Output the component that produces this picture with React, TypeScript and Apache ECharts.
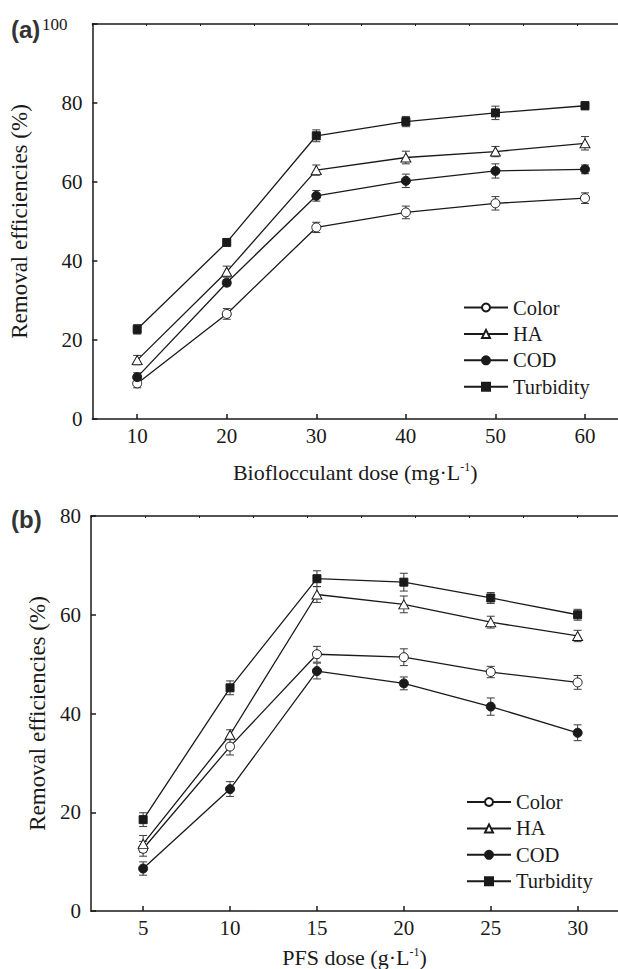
import { useEffect, useRef } from "react";
import * as echarts from "echarts";

// Panel (a): bioflocculant dose series
const doseA = [10, 20, 30, 40, 50, 60];
const colorA = [9.0, 26.6, 48.5, 52.3, 54.6, 55.9];
const haA = [14.9, 37.3, 63.0, 66.2, 67.7, 69.8];
const codA = [10.6, 34.5, 56.5, 60.3, 62.8, 63.2];
const turbA = [22.7, 44.7, 71.7, 75.3, 77.5, 79.3];
const colorAErr = [1.1, 1.35, 1.3, 1.6, 1.7, 1.35];
const haAErr = [1.2, 1.4, 1.3, 1.6, 1.3, 1.7];
const codAErr = [1.1, 0.8, 1.35, 1.7, 1.8, 1.1];
const turbAErr = [1.2, 0.5, 1.5, 1.3, 1.7, 1.0];

// Panel (b): PFS dose series
const doseB = [5, 10, 15, 20, 25, 30];
const colorB = [12.6, 33.3, 52.0, 51.4, 48.4, 46.3];
const haB = [13.6, 35.7, 64.1, 62.1, 58.5, 55.7];
const codB = [8.6, 24.7, 48.6, 46.1, 41.4, 36.1];
const turbB = [18.5, 45.2, 67.3, 66.6, 63.4, 60.0];
const colorBErr = [1.5, 1.7, 1.6, 1.7, 1.15, 1.4];
const haBErr = [1.7, 1.0, 1.6, 1.7, 1.2, 1.15];
const codBErr = [1.35, 1.5, 1.6, 1.3, 1.75, 1.6];
const turbBErr = [1.4, 1.4, 1.6, 1.8, 1.1, 1.1];

const seriesNames = ["Color", "HA", "COD", "Turbidity"];
const xTicksA = [10, 20, 30, 40, 50, 60];
const xTicksB = [5, 10, 15, 20, 25, 30];

const FONT = "Liberation Serif";
const INK = "#1a1a1a";
const BAR = "#3a3a3a";

const markerOf: Record<string, any> = {
  Color: { symbol: "circle", symbolSize: 9, itemStyle: { color: "#fff", borderColor: INK, borderWidth: 1 } },
  HA: { symbol: "triangle", symbolSize: [10, 9], itemStyle: { color: "#fff", borderColor: INK, borderWidth: 1 } },
  COD: { symbol: "circle", symbolSize: 9, itemStyle: { color: INK, borderColor: INK, borderWidth: 1 } },
  Turbidity: { symbol: "rect", symbolSize: 8, itemStyle: { color: INK, borderColor: INK, borderWidth: 1 } },
};

function lineSeries(name: string, x: number[], y: number[], idx: number) {
  return {
    type: "line",
    name,
    xAxisIndex: idx,
    yAxisIndex: idx,
    z: 3,
    data: x.map((v, i) => [v, y[i]]),
    lineStyle: { color: INK, width: 1.3 },
    ...markerOf[name],
  };
}

// Vertical error bar with caps at y ± err
function errorSeries(x: number[], y: number[], err: number[], idx: number) {
  return {
    type: "custom",
    xAxisIndex: idx,
    yAxisIndex: idx,
    z: 2,
    silent: true,
    data: x.map((v, i) => [v, y[i] - err[i], y[i] + err[i]]),
    encode: { x: 0, y: [1, 2] },
    renderItem: (_p: any, api: any) => {
      const xv = api.value(0);
      const lo = api.coord([xv, api.value(1)]);
      const hi = api.coord([xv, api.value(2)]);
      const w = 4;
      const st = { stroke: BAR, lineWidth: 1 };
      return {
        type: "group",
        children: [
          { type: "line", shape: { x1: lo[0], y1: lo[1], x2: hi[0], y2: hi[1] }, style: st },
          { type: "line", shape: { x1: lo[0] - w, y1: lo[1], x2: lo[0] + w, y2: lo[1] }, style: st },
          { type: "line", shape: { x1: hi[0] - w, y1: hi[1], x2: hi[0] + w, y2: hi[1] }, style: st },
        ],
      };
    },
  };
}

const txt = { fontFamily: FONT, color: INK };
const axisLineStyle = { color: INK, width: 1.5 };
const tickRich = { t: { ...txt, fontSize: 21 }, h: { ...txt, fontSize: 17, padding: [0, 15, 0, 0] } };

function bottomAxis(gridIndex: number, min: number, max: number, ticks: number[], name: string, gap: number) {
  return {
    type: "value",
    gridIndex,
    position: "bottom",
    min,
    max,
    axisLine: { show: true, onZero: false, lineStyle: axisLineStyle },
    axisTick: { show: true, inside: true, length: 5, customValues: ticks, lineStyle: axisLineStyle },
    axisLabel: {
      show: true,
      customValues: ticks,
      margin: 6,
      ...txt,
      fontSize: 21,
      formatter: (v: number) => `{t|${v}}`,
      rich: tickRich,
    },
    splitLine: { show: false },
    name,
    nameLocation: "middle",
    nameGap: gap,
    nameTextStyle: {
      ...txt,
      fontSize: 22,
      rich: {
        n: { ...txt, fontSize: 22 },
        s: { ...txt, fontSize: 12, verticalAlign: "top" },
      },
    },
  };
}

// Frame line along the top of each panel with small inward ticks
function topAxis(gridIndex: number) {
  return {
    type: "value",
    gridIndex,
    position: "top",
    min: 0,
    max: 527 / 54,
    interval: 1,
    axisLine: { show: true, onZero: false, lineStyle: axisLineStyle },
    axisTick: { show: true, inside: true, length: 2, lineStyle: { color: INK, width: 1 } },
    axisLabel: { show: false },
    splitLine: { show: false },
  };
}

function leftAxis(gridIndex: number, max: number) {
  return {
    type: "value",
    gridIndex,
    min: 0,
    max,
    interval: 20,
    axisLine: { show: true, onZero: false, lineStyle: axisLineStyle },
    axisTick: { show: true, inside: true, length: 5, lineStyle: axisLineStyle },
    axisLabel: {
      margin: 10,
      ...txt,
      fontSize: 21,
      formatter: (v: number) => (v === 100 ? "{h|100}" : `{t|${v}}`),
      rich: tickRich,
    },
    splitLine: { show: false },
    name: "{t|Removal efficiencies (%)}",
    nameLocation: "middle",
    nameGap: 42,
    nameTextStyle: { ...txt, fontSize: 23, rich: { t: { ...txt, fontSize: 23 } } },
  };
}

function legend(left: number, top: number) {
  return {
    data: seriesNames,
    orient: "vertical",
    left,
    top,
    padding: 0,
    itemWidth: 44,
    itemHeight: 10,
    itemGap: 5.4,
    selectedMode: false,
    formatter: (name: string) => `{t|${name}}`,
    textStyle: {
      ...txt,
      fontSize: 20.5,
      lineHeight: 20,
      rich: { t: { ...txt, fontSize: 20.5, lineHeight: 20 } },
    },
  };
}

export default function App() {
  const ref = useRef<HTMLDivElement>(null);

  useEffect(() => {
    if (!ref.current) return;
    const chart = echarts.init(ref.current, undefined, { renderer: "svg" });
    const panelA = [colorA, haA, codA, turbA];
    const errA = [colorAErr, haAErr, codAErr, turbAErr];
    const panelB = [colorB, haB, codB, turbB];
    const errB = [colorBErr, haBErr, codBErr, turbBErr];

    chart.setOption({
      animation: false,
      backgroundColor: "#fff",
      textStyle: { fontFamily: FONT },
      grid: [
        { left: 91, top: 24, width: 527, height: 395 },
        { left: 91, top: 516, width: 527, height: 395.5 },
      ],
      xAxis: [
        bottomAxis(0, 5, 5 + 527 / 8.98, xTicksA, "{n|Bioflocculant dose (mg·L}{s|-1}{n|)}", 42),
        bottomAxis(1, 2, 2 + 527 / 17.38, xTicksB, "{n|PFS dose (g·L}{s|-1}{n|)}", 35),
        topAxis(0),
        topAxis(1),
      ],
      yAxis: [leftAxis(0, 100), leftAxis(1, 80)],
      legend: [legend(463, 297), legend(466, 791.5)],
      graphic: [
        {
          type: "text",
          left: 11,
          top: 17,
          style: { text: "(a)", font: "bold 24px 'Liberation Sans', Arial, sans-serif", fill: "#333" },
        },
        {
          type: "text",
          left: 11,
          top: 507,
          style: { text: "(b)", font: "bold 24px 'Liberation Sans', Arial, sans-serif", fill: "#333" },
        },
      ],
      series: [
        ...seriesNames.map((n, i) => lineSeries(n, doseA, panelA[i], 0)),
        ...seriesNames.map((n, i) => lineSeries(n, doseB, panelB[i], 1)),
        ...seriesNames.map((_n, i) => errorSeries(doseA, panelA[i], errA[i], 0)),
        ...seriesNames.map((_n, i) => errorSeries(doseB, panelB[i], errB[i], 1)),
      ],
    });
    return () => chart.dispose();
  }, []);

  return (
    <div
      ref={ref}
      style={{ position: "absolute", left: 0, top: 0, width: 618, height: 969, background: "#fff" }}
    />
  );
}
